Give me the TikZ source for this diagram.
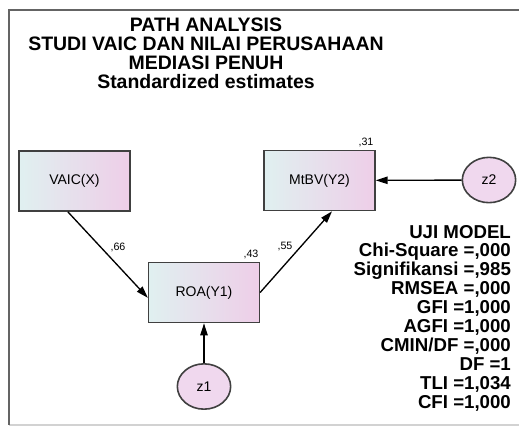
\documentclass[tikz,border=0pt]{standalone}
\usepackage{fontspec}
\setmainfont{Liberation Sans}
\usetikzlibrary{arrows.meta,shapes.geometric}
\definecolor{boxcyan}{RGB}{224,240,240}
\definecolor{boxmid}{RGB}{234,220,236}
\definecolor{boxpink}{RGB}{238,206,232}
\definecolor{errpink}{RGB}{240,216,238}
\definecolor{linegray}{RGB}{64,64,64}
\definecolor{framegray}{RGB}{100,100,100}
\begin{document}
\begin{tikzpicture}[x=0.75pt, y=-0.75pt, line width=1pt,
    observed/.style={draw=linegray, line width=1.2pt, shading angle=60,
        left color=boxcyan, middle color=boxmid, right color=boxpink,
        minimum width=83pt, minimum height=45pt, inner sep=0pt,
        font=\fontsize{10.5}{12}\selectfont},
    residual/.style={draw=linegray, line width=1.2pt, fill=errpink, shape=ellipse,
        minimum width=40pt, minimum height=34pt, inner sep=0pt,
        font=\fontsize{10.5}{12}\selectfont},
    effect/.style={draw=black, line width=1pt, -{Triangle[length=9pt,width=5.5pt]}},
    estimate/.style={font=\fontsize{8}{9}\selectfont, inner sep=0pt}
]
\useasboundingbox (0,0) rectangle (519,426);
% --- Rahmen ---
\draw[gray!35, line width=0.8pt] (9,425) -- (519,425);    % untere Kante
\draw[framegray, line width=2pt] (519,10) -- (9,10) -- (9,425);
% --- Titel ---
\node[font=\bfseries\fontsize{14.6}{14.3}\selectfont, align=center] (title) at (206,53.5)
    {PATH ANALYSIS\\STUDI VAIC DAN NILAI PERUSAHAAN\\MEDIASI PENUH\\Standardized estimates};
% --- Variablen ---
\node[observed] (vaic) at (74.5,181) {VAIC(X)};
\node[observed] (roa) at (204,292.5) {ROA(Y1)};
\node[observed] (mtbv) at (319.5,180.5) {MtBV(Y2)};
% --- Residuen ---
\node[residual] (z1) at (204,386.5) {z1};
\node[residual] (z2) at (489,180) {z2};
% --- Pfade ---
\draw[effect] ([xshift=-5pt]vaic.south) -- ([yshift=-4pt]roa.west);
\draw[effect] (roa.east) -- ([xshift=9.4pt]mtbv.south);
\draw[effect] (z2) -- (mtbv);
\draw[effect] (z1) -- (roa);
% --- Koeffizienten ---
\node[estimate] (b1) at (118,247) {,66};
\node[estimate] (b2) at (285,247) {,55};
\node[estimate] (r1) at (251,254) {,43};
\node[estimate] (r2) at (366,142) {,31};
% --- Modelltest ---
\node[font=\bfseries\fontsize{14}{14.17}\selectfont, align=right, anchor=east] (fit) at (516,318)
    {UJI MODEL\\Chi-Square =,000\\Signifikansi =,985\\RMSEA =,000\\GFI =1,000\\AGFI =1,000\\CMIN/DF =,000\\DF =1\\TLI =1,034\\CFI =1,000};
\end{tikzpicture}
\end{document}
